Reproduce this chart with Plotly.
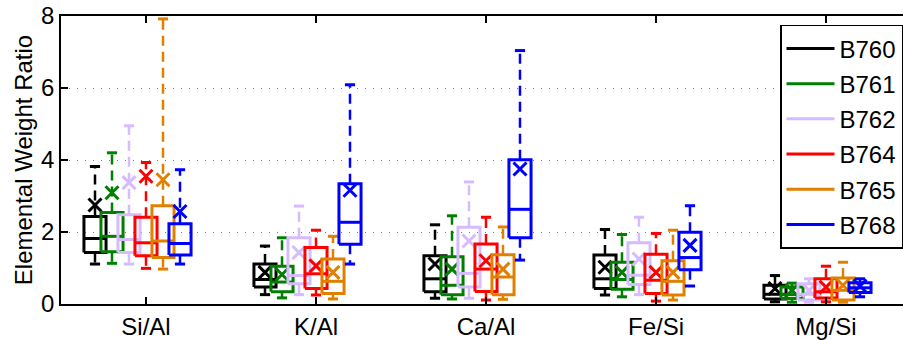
import plotly.graph_objects as go

categories = ["Si/Al", "K/Al", "Ca/Al", "Fe/Si", "Mg/Si"]
series_names = ["B760", "B761", "B762", "B764", "B765", "B768"]
colors = ["#000000", "#007F00", "#D6BBFF", "#FF0000", "#E08000", "#0000FF"]

# per series: values for each category (Si/Al, K/Al, Ca/Al, Fe/Si, Mg/Si)
lower_whisker = {
    "B760": [1.11, 0.26, 0.16, 0.25, 0.06],
    "B761": [1.13, 0.17, 0.14, 0.20, 0.05],
    "B762": [1.11, 0.26, 0.16, 0.26, 0.05],
    "B764": [0.99, 0.25, 0.11, 0.08, 0.06],
    "B765": [0.97, 0.14, 0.13, 0.11, 0.05],
    "B768": [1.11, 1.11, 1.22, 0.50, 0.20],
}
q1 = {
    "B760": [1.43, 0.47, 0.34, 0.43, 0.14],
    "B761": [1.45, 0.34, 0.26, 0.41, 0.15],
    "B762": [1.43, 0.56, 0.47, 0.54, 0.11],
    "B764": [1.34, 0.43, 0.35, 0.29, 0.17],
    "B765": [1.29, 0.29, 0.26, 0.25, 0.11],
    "B768": [1.36, 1.66, 1.84, 0.95, 0.32],
}
median = {
    "B760": [1.82, 0.68, 0.70, 0.70, 0.27],
    "B761": [1.88, 0.61, 0.52, 0.68, 0.26],
    "B762": [1.79, 0.79, 0.85, 0.80, 0.27],
    "B764": [1.70, 0.84, 0.97, 0.66, 0.34],
    "B765": [1.75, 0.63, 0.75, 0.63, 0.38],
    "B768": [1.68, 2.27, 2.63, 1.29, 0.45],
}
q3 = {
    "B760": [2.43, 1.11, 1.34, 1.36, 0.52],
    "B761": [2.54, 1.05, 1.31, 1.16, 0.47],
    "B762": [2.48, 1.84, 2.13, 1.70, 0.56],
    "B764": [2.41, 1.57, 1.67, 1.38, 0.70],
    "B765": [2.73, 1.25, 1.37, 1.20, 0.72],
    "B768": [2.23, 3.34, 4.01, 1.99, 0.59],
}
upper_whisker = {
    "B760": [3.82, 1.61, 2.20, 2.07, 0.79],
    "B761": [4.20, 1.84, 2.45, 1.93, 0.58],
    "B762": [4.95, 2.72, 3.39, 2.41, 0.70],
    "B764": [3.93, 2.05, 2.41, 1.96, 1.05],
    "B765": [7.92, 1.88, 2.14, 2.05, 1.16],
    "B768": [3.73, 6.09, 7.04, 2.73, 0.70],
}
mean = {
    "B760": [2.75, 0.88, 1.11, 1.02, 0.43],
    "B761": [3.09, 0.82, 0.97, 0.88, 0.38],
    "B762": [3.37, 1.43, 1.75, 1.25, 0.38],
    "B764": [3.55, 1.06, 1.20, 0.88, 0.47],
    "B765": [3.45, 0.88, 0.97, 0.88, 0.52],
    "B768": [2.57, 3.16, 3.75, 1.63, 0.50],
}

tick_vals = [1, 2, 3, 4, 5]
y_ticks = [0, 2, 4, 6, 8]

offset_step = 0.1
box_half = 0.065
cap_half = 0.03
FONT = "Liberation Sans, Arial, sans-serif"

fig = go.Figure()

for i, name in enumerate(series_names):
    col = colors[i]
    off = (i - 3) * offset_step
    wx, wy, cx, cy, bx, by, mx, my = [], [], [], [], [], [], [], []
    for k, c in enumerate(tick_vals):
        x = c + off
        lo, a, m, b, hi = (lower_whisker[name][k], q1[name][k], median[name][k],
                           q3[name][k], upper_whisker[name][k])
        wx += [x, x, None, x, x, None]
        wy += [b, hi, None, a, lo, None]
        cx += [x - cap_half, x + cap_half, None, x - cap_half, x + cap_half, None]
        cy += [hi, hi, None, lo, lo, None]
        bx += [x - box_half, x + box_half, x + box_half, x - box_half, x - box_half, None,
               x - box_half, x + box_half, None]
        by += [a, a, b, b, a, None, m, m, None]
        mx.append(x)
        my.append(mean[name][k])
    fig.add_trace(go.Scatter(x=wx, y=wy, mode="lines", line=dict(color=col, width=2.5, dash="10px,6px"),
                             showlegend=False, legendgroup=name, hoverinfo="skip"))
    fig.add_trace(go.Scatter(x=cx, y=cy, mode="lines", line=dict(color=col, width=3),
                             showlegend=False, legendgroup=name, hoverinfo="skip"))
    fig.add_trace(go.Scatter(x=bx, y=by, mode="lines", line=dict(color=col, width=3),
                             name=name, showlegend=True, legendgroup=name))
    fig.add_trace(go.Scatter(x=mx, y=my, mode="markers",
                             marker=dict(symbol="x-thin", size=13, line=dict(color=col, width=3)),
                             showlegend=False, legendgroup=name, hoverinfo="skip"))

fig.update_layout(
    width=903, height=340,
    margin=dict(l=61, r=0, t=16, b=31),
    paper_bgcolor="white", plot_bgcolor="white",
    font=dict(family=FONT, size=24, color="black"),
    legend=dict(x=(780 - 61) / 842, y=(309 - 25) / 293, xanchor="left", yanchor="top",
                bordercolor="black", borderwidth=1.5, bgcolor="white",
                font=dict(size=24), tracegroupgap=1, itemwidth=48),
    xaxis=dict(range=[0.5, 5.453], tickmode="array", tickvals=tick_vals, ticktext=categories,
               showline=True, linecolor="black", linewidth=1.5, mirror="ticks",
               ticks="inside", ticklen=7, tickwidth=1.5, tickcolor="black",
               showgrid=False, zeroline=False, tickfont=dict(size=24)),
    yaxis=dict(range=[0, 8], tickmode="array", tickvals=y_ticks,
               showline=True, linecolor="black", linewidth=1.5, mirror=False,
               ticks="inside", ticklen=7, tickwidth=1.5, tickcolor="black",
               showgrid=True, gridcolor="#777777", gridwidth=1, griddash="1px,7px",
               zeroline=False, tickfont=dict(size=24),
               title=dict(text="Elemental Weight Ratio", font=dict(size=24), standoff=2)),
)

fig.write_html("out.html", config={"displayModeBar": False},
               post_script="document.body.style.margin='0';document.body.style.padding='0';")
